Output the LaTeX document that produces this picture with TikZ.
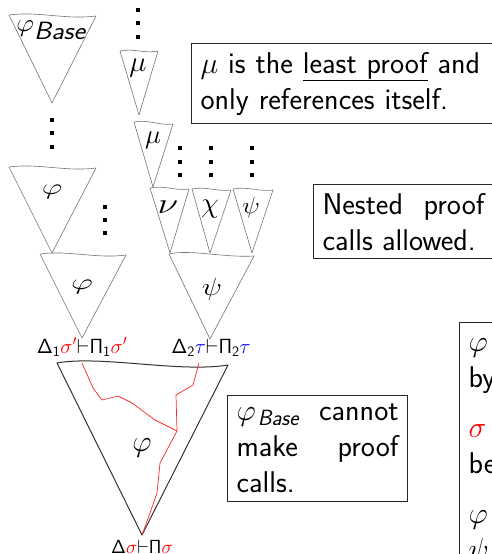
\RequirePackage{fix-cm}
\documentclass[tikz,border=0pt]{standalone}
\renewcommand{\familydefault}{\sfdefault}
\begin{document}
\begin{tikzpicture}[x=1pt,y=-1pt,
  tri/.style={draw=black!55, line width=0.6pt, line join=round},
  bigtri/.style={draw=black!80, line width=1pt, line join=round},
  redpath/.style={draw=red!85, line width=0.7pt, line join=round},
  dotfill/.style={fill=black},
  lab/.style={inner sep=0pt, anchor=base},
  turnlab/.style={inner sep=0pt, anchor=base, font=\fontsize{20.5}{24}\selectfont},
  note/.style={draw=black!85, line width=1.1pt, anchor=north west, inner xsep=9pt, inner ysep=8.5pt,
    font=\fontsize{30}{36}\selectfont}
]
\useasboundingbox (0,0) rectangle (492,554);
\newcommand\vdot[2]{\fill[dotfill] (#1-1.6,#2-1.6) rectangle ++(3.2,3.2);}

% ---------- left column ----------
\draw[tri] (9,15) .. controls (38,11) and (66,20) .. (96,16) -- (52,103) -- cycle;
\node[lab, font=\fontsize{25}{30}\selectfont] (phib) at (51,31) {\scalebox{1.1}[1]{$\varphi_{\textsf{\itshape Base}}$}};
\foreach \y in {120,133,147} {\vdot{52}{\y}}

\draw[tri] (9,167) .. controls (38,163) and (66,172) .. (96,168) -- (52,253) -- cycle;
\node[lab, font=\fontsize{22}{26}\selectfont] (phia) at (52,194) {\scalebox{1.45}[1]{$\varphi$}};
\foreach \y in {207,220,233} {\vdot{105}{\y}}

\draw[tri] (40,254) .. controls (68,250) and (97,259) .. (126,255) -- (82,338) -- cycle;
\node[lab, font=\fontsize{22}{26}\selectfont] (phic) at (82,289) {\scalebox{1.55}[1]{$\varphi$}};
\node[turnlab] (lab1) at (82,353) {$\mathsf{\Delta}_{\mathsf{1}}{\color{red}\sigma'}{\vdash}\mathsf{\Pi}_{\mathsf{1}}{\color{red}\sigma'}$};

% ---------- middle column ----------
\foreach \y in {10,23,37} {\vdot{138}{\y}}
\draw[tri] (120,51) .. controls (133,48) and (146,54) .. (158,51) -- (139,115) -- cycle;
\node[lab, font=\fontsize{29}{32}\selectfont] (mua) at (138,71) {$\mu$};

\draw[tri] (134,122) .. controls (147,119) and (160,126) .. (173,124) -- (153,187) -- cycle;
\node[lab, font=\fontsize{27}{30}\selectfont] (mub) at (153,143) {$\mu$};
\foreach \x in {180,211,252} {\foreach \y in {148,162,175} {\vdot{\x}{\y}}}

\draw[tri] (150,188) .. controls (163,185) and (176,191) .. (189,189) -- (170,253) -- cycle;
\draw[tri] (192,189) .. controls (205,186) and (218,192) .. (231,190) -- (210,253) -- cycle;
\draw[tri] (233,189) .. controls (246,186) and (260,192) .. (273,190) -- (252,253) -- cycle;
\node[lab, font=\fontsize{29}{32}\selectfont] (nu) at (168,213) {\scalebox{1.3}[1]{$\nu$}};
\node[lab, font=\fontsize{29}{32}\selectfont] (chi) at (210,212) {$\chi$};
\node[lab, font=\fontsize{23}{28}\selectfont] (psia) at (251,213) {\scalebox{1.15}[1]{$\psi$}};

\draw[tri] (169,254) .. controls (190,249) and (225,258) .. (254,256) -- (210,339) -- cycle;
\node[lab, font=\fontsize{25}{30}\selectfont] (psib) at (212,295) {\scalebox{1.2}[1]{$\psi$}};
\node[turnlab] (lab2) at (211,353) {$\mathsf{\Delta}_{\mathsf{2}}{\color{blue}\tau}{\vdash}\mathsf{\Pi}_{\mathsf{2}}{\color{blue}\tau}$};

% ---------- big triangle ----------
\draw[bigtri] (57,363) .. controls (100,355) and (180,373) .. (228,365) -- (142,535) -- cycle;
\draw[redpath] (82,363) -- (93,388) -- (102,400) -- (118,396) -- (132,403) -- (155,420) -- (177,431);
\draw[redpath] (199,363) -- (193,385) -- (176,395) -- (177,431) -- (160,463) -- (157,493) -- (150,513) -- (142,535);
\node[lab, font=\fontsize{30}{34}\selectfont] (phibig) at (142,451) {$\varphi$};
\node[lab, font=\fontsize{19}{22}\selectfont] (lab3) at (142,553) {$\mathsf{\Delta}{\color{red}\sigma}{\vdash}\mathsf{\Pi}{\color{red}\sigma}$};

% ---------- notes ----------
\node[note, text width=300pt, align=left] (n1) at (191,43)
  {$\mu$ is the \underline{least proof} and\\ only references itself.};
\node[note, text width=162pt, align=justify] (n2) at (313,184)
  {Nested proof calls allowed.};
\node[note, text width=162pt, align=justify] (n3) at (227,395)
  {$\varphi$\kern2pt\raisebox{-5pt}{\fontsize{22}{24}\selectfont\itshape Base} cannot make proof calls.};
\node[note, text width=162pt, align=left] (n4) at (459,322)
  {$\varphi$\vphantom{bh}\\ by\par\vspace{14pt}{\color{red}$\sigma$}\\ be\par\vspace{14pt}$\varphi$\\ $\psi$};
\end{tikzpicture}
\end{document}
